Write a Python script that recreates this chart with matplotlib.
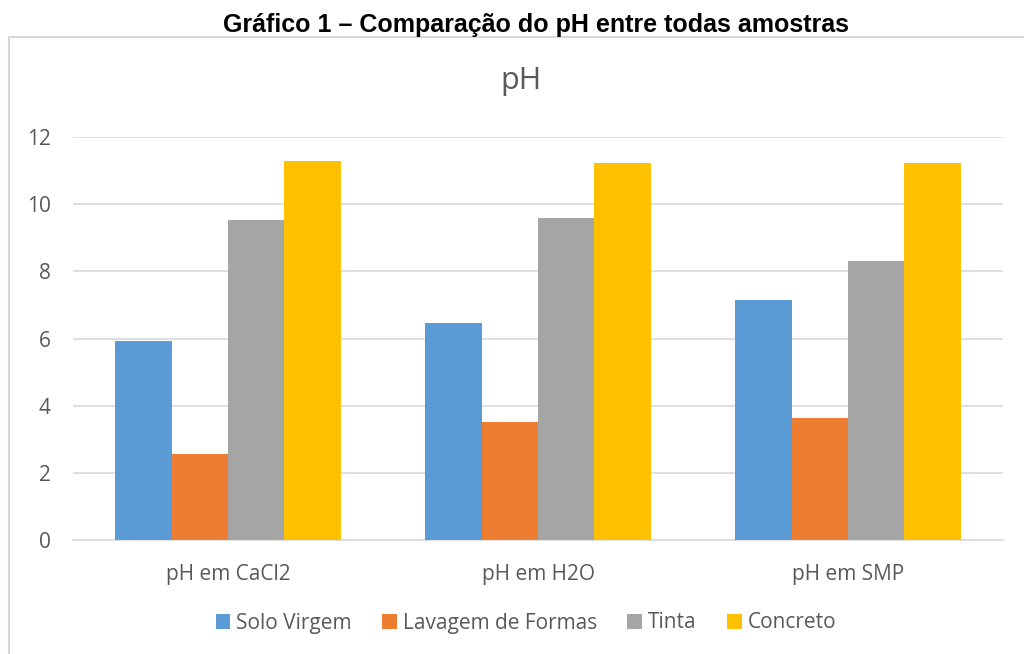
import numpy as np
import matplotlib.pyplot as plt
from matplotlib.patches import Rectangle

categorias = ["pH em CaCl2", "pH em H2O", "pH em SMP"]
series = ["Solo Virgem", "Lavagem de Formas", "Tinta", "Concreto"]
solo_virgem = [5.93, 6.46, 7.14]
lavagem = [2.55, 3.52, 3.62]
tinta = [9.52, 9.58, 8.31]
concreto = [11.28, 11.22, 11.22]
cores = ["#5B9BD5", "#ED7D31", "#A5A5A5", "#FFC000"]

plt.rcParams['font.family'] = ['Open Sans', 'DejaVu Sans']
texto = "#595959"

fig = plt.figure(figsize=(10.24, 6.54), dpi=100)
ax = fig.add_axes([73 / 1024, 1 - 540 / 654, 930 / 1024, 403 / 654])

x = np.arange(len(categorias))
largura = 0.1816
valores = [solo_virgem, lavagem, tinta, concreto]
for k, (nome, v) in enumerate(zip(series, valores)):
    ax.bar(x + (k - 1.5) * largura, v, largura, color=cores[k], label=nome, zorder=3, linewidth=0)

ax.set_xlim(-0.5, 2.5)
ax.set_ylim(0, 12)
ax.set_yticks(range(0, 13, 2))
ax.set_xticks(x)
ax.set_xticklabels(categorias)
ax.yaxis.grid(True, color="#D9D9D9", linewidth=1.2, zorder=0)
for s in ["top", "right", "left"]:
    ax.spines[s].set_visible(False)
ax.spines["bottom"].set_color("#D9D9D9")
ax.spines["bottom"].set_linewidth(1.2)
ax.tick_params(axis="both", length=0, labelsize=15, colors=texto)
ax.tick_params(axis="x", pad=17)
ax.tick_params(axis="y", pad=16)

# titulo do grafico (centrado na area do grafico, nao no eixo)
fig.text(521 / 1024, 1 - 81 / 654, "pH", fontsize=22, color=texto, ha="center", va="center")

fig.legend(loc="center", bbox_to_anchor=(526 / 1024, 1 - 623 / 654), ncol=4, frameon=False,
           fontsize=15, labelcolor=texto, handlelength=0.7, handleheight=0.7,
           handletextpad=0.3, columnspacing=1.45)

fig.text(536 / 1024, 1 - 25 / 654, "Gráfico 1 – Comparação do pH entre todas amostras",
         family="Liberation Sans", fontweight="bold", fontsize=18, ha="center", va="center")

fig.patches.append(Rectangle((9 / 1024, -0.1), 1.2, 1 - 37 / 654 + 0.1, transform=fig.transFigure,
                             fill=False, edgecolor="#D9D9D9", linewidth=1.5))

fig.savefig("out.png", dpi=100)
